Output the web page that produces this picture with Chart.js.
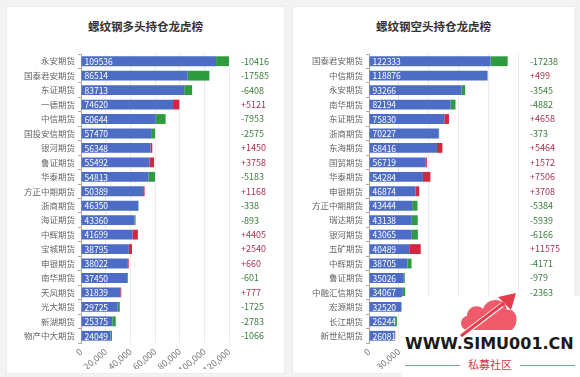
<!DOCTYPE html>
<html>
<head>
<meta charset="utf-8">
<title>螺纹钢持仓龙虎榜</title>
<script src="https://cdn.jsdelivr.net/npm/chart.js"></script>
<style>
  html, body { margin: 0; padding: 0; }
  body { width: 580px; height: 377px; background: #f3f3f3; position: relative; overflow: hidden;
         font-family: 'Noto Sans CJK SC', 'Noto Sans', sans-serif; }
  .card { position: absolute; top: 6px; height: 368px; background: #fff; border: 1px solid #ededed; box-sizing: border-box; }
  .card canvas { position: absolute; left: 0; top: 0; }
  .title { position: absolute; top: 11px; left: 0; right: 0; text-align: center; font-size: 11.5px; font-weight: bold; color: #333; }
  .mark { position: absolute; left: 402px; top: 296px; width: 178px; height: 81px; background: #fff; }
  .mark svg { position: absolute; left: 56px; top: -4px; }
  .site { position: absolute; left: 3px; top: 41px; line-height: 14px; font-family: 'DejaVu Sans', sans-serif; font-weight: bold; font-size: 16px; color: #1a1a1a; white-space: nowrap; }
  .sub { position: absolute; left: 3px; top: 62px; width: 170px; line-height: 13px; text-align: center; font-size: 11px; color: #d0364a; }
  .sub:before, .sub:after { content: ''; position: absolute; top: 7px; width: 55px; border-top: 1px solid #d57a84; }
  .sub:before { left: 0; } .sub:after { right: 0; }
</style>
</head>
<body>
<div class="card" style="left:6px;width:279px;">
  <div class="title">螺纹钢多头持仓龙虎榜</div>
  <canvas id="longChart" width="279" height="368"></canvas>
</div>
<div class="card" style="left:292px;width:283px;">
  <div class="title">螺纹钢空头持仓龙虎榜</div>
  <canvas id="shortChart" width="283" height="368"></canvas>
</div>
<div class="mark">
  <svg width="62" height="46" viewBox="0 0 62 46">
    <path d="M10 38 C1 38 1 25 9 24 C9 14 21 12 25 17 C29 5 47 5 49 18 C59 16 62 31 54 38 Z" fill="#f05b6b"/>
    <path d="M3 44 L44 13" stroke="#fff" stroke-width="5"/>
    <path d="M3 44 L46 11" stroke="#e63c4c" stroke-width="3"/>
    <path d="M40 5 L58 1 L53 18 Z" fill="#e63c4c"/>
  </svg>
  <div class="site">WWW.SIMU001.CN</div>
  <div class="sub">私募社区</div>
</div>
<script>
// 多头
const longNames = ['永安期货', '国泰君安期货', '东证期货', '一德期货', '中信期货', '国投安信期货', '银河期货', '鲁证期货', '华泰期货', '方正中期期货',
  '浙商期货', '海证期货', '中辉期货', '宝城期货', '申银期货', '南华期货', '天风期货', '光大期货', '新湖期货', '物产中大期货'];
const longValues = [109536, 86514, 83713, 74620, 60644, 57470, 56348, 55492, 54813, 50389,
  46350, 43360, 41699, 38795, 38022, 37450, 31839, 29725, 25375, 24049];
const longChanges = [-10416, -17585, -6408, 5121, -7953, -2575, 1450, 3758, -5183, 1168,
  -338, -893, 4405, 2540, 660, -601, 777, -1725, -2783, -1066];

// 空头
const shortNames = ['国泰君安期货', '中信期货', '永安期货', '南华期货', '东证期货', '浙商期货', '东海期货', '国贸期货', '华泰期货', '申银期货',
  '方正中期期货', '瑞达期货', '银河期货', '五矿期货', '中辉期货', '鲁证期货', '中融汇信期货', '宏源期货', '长江期货', '新世纪期货'];
const shortValues = [122333, 118876, 93266, 82194, 75830, 70227, 68416, 56719, 54284, 46874,
  43444, 43138, 43065, 40489, 38705, 35026, 34067, 32520, 26244, 26081];
const shortChanges = [-17238, 499, -3545, -4882, 4658, -373, 5464, 1572, 7506, 3708,
  -5384, -5939, -6166, 11575, -4171, -979, -2363, -310, -1870, 380];

const longTicks = [0, 20000, 40000, 60000, 80000, 100000, 120000];
const shortTicks = [0, 30000, 60000, 90000, 120000, 150000];

const BLUE = '#4d6cc5', GREEN = '#2e9b3e', RED = '#d3263f';
const FONT = "'Noto Sans CJK SC', 'Noto Sans', sans-serif";

// white numbers inside the blue bars
const valueLabels = {
  id: 'valueLabels',
  afterDatasetsDraw(chart) {
    const ctx = chart.ctx;
    const meta = chart.getDatasetMeta(0);
    const vals = chart.data.datasets[0].data;
    ctx.save();
    ctx.fillStyle = '#fff';
    ctx.font = '8.5px ' + FONT;
    ctx.textBaseline = 'middle';
    meta.data.forEach((bar, i) => {
      ctx.fillText(String(vals[i]), bar.base + 3, bar.y + 0.5);
    });
    ctx.restore();
  }
};

function fmtChange(v) { return v > 0 ? '+' + v : String(v); }

function makeChart(id, names, values, changes, ticks, leftW, rightW) {
  new Chart(document.getElementById(id), {
    type: 'bar',
    data: {
      labels: names,
      datasets: [
        { data: values, backgroundColor: BLUE },
        { data: changes.map(c => c < 0 ? -c : 0), backgroundColor: GREEN },
        { data: changes.map(c => c > 0 ? c : 0), backgroundColor: RED }
      ]
    },
    options: {
      indexAxis: 'y',
      responsive: false,
      animation: false,
      barPercentage: 0.68,
      categoryPercentage: 1,
      layout: { padding: { top: 47, bottom: 6, left: 0, right: 0 } },
      plugins: { legend: { display: false }, tooltip: { enabled: false } },
      scales: {
        x: {
          stacked: true,
          min: ticks[0],
          max: ticks[ticks.length - 1],
          afterBuildTicks: axis => { axis.ticks = ticks.map(v => ({ value: v })); },
          afterFit: axis => { axis.height = 26; },
          grid: { color: '#ececec', drawTicks: false },
          border: { display: false },
          ticks: {
            minRotation: 40, maxRotation: 40, padding: 3,
            color: '#777', font: { size: 9, family: FONT },
            callback: v => v.toLocaleString('en-US')
          }
        },
        y: {
          stacked: true,
          afterFit: axis => { axis.width = leftW; },
          grid: { display: true, drawOnChartArea: false, offset: true, tickLength: 3, color: '#aaa' },
          border: { display: true, color: '#aaa' },
          ticks: { color: '#666', padding: 3, font: { size: 8.5, family: FONT } }
        },
        y2: {
          type: 'category',
          position: 'right',
          labels: changes.map(fmtChange),
          offset: true,
          afterFit: axis => { axis.width = rightW; },
          grid: { display: false },
          border: { display: false },
          ticks: {
            padding: 4,
            font: { size: 9, family: FONT },
            color: c => changes[c.index] > 0 ? '#a8324e' : '#3c7d3c'
          }
        }
      }
    },
    plugins: [valueLabels]
  });
}

makeChart('longChart', longNames, longValues, longChanges, longTicks, 74, 57);
makeChart('shortChart', shortNames, shortValues, shortChanges, shortTicks, 76, 58);
</script>
</body>
</html>
